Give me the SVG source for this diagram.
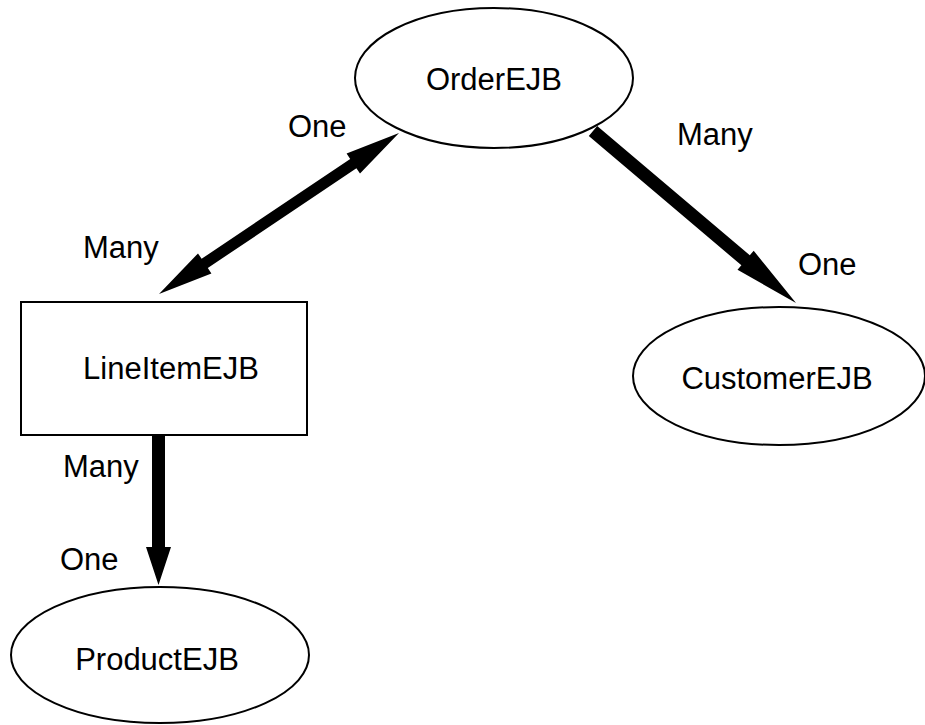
<svg xmlns="http://www.w3.org/2000/svg" width="925" height="725" viewBox="0 0 925 725">
<style>
.node{fill:#fff;stroke:#000;stroke-width:2}
.t{font-family:"Liberation Sans",Arial,sans-serif;font-size:31px;fill:#000}
.m{text-anchor:middle}
.arr{fill:#000;stroke:none}
</style>
<rect width="925" height="725" fill="#fff"/>
<g id="OrderEJB">
<ellipse class="node" cx="494" cy="78" rx="139" ry="70"/>
<text class="t m" x="494" y="90">OrderEJB</text>
</g>
<g id="CustomerEJB">
<ellipse class="node" cx="779" cy="376" rx="146" ry="69"/>
<text class="t m" x="777" y="389">CustomerEJB</text>
</g>
<g id="LineItemEJB">
<rect class="node" x="21" y="302" width="286" height="133" stroke-width="2.5"/>
<text class="t m" x="171" y="379">LineItemEJB</text>
</g>
<g id="ProductEJB">
<ellipse class="node" cx="160" cy="655" rx="149" ry="68"/>
<text class="t m" x="157" y="670">ProductEJB</text>
</g>
<g id="connectors">
<polygon class="arr" points="399,133 360.0,173.6 356.4,168.2 207.8,268.0 211.4,273.4 159,294 198.0,253.4 201.6,258.8 350.2,159.0 346.6,153.6"/>
<polygon class="arr" points="588.8,136.0 741.4,265.3 737.5,269.8 796,303 753.7,250.8 749.8,255.3 597.2,126.0"/>
<polygon class="arr" points="152,435 165,435 165,547 171,547 158.5,585 146,547 152,547"/>
<text class="t" x="288" y="137">One</text>
<text class="t" x="83" y="258">Many</text>
<text class="t" x="677" y="145">Many</text>
<text class="t" x="798" y="275">One</text>
<text class="t" x="63" y="477">Many</text>
<text class="t" x="60" y="570">One</text>
</g>
</svg>
